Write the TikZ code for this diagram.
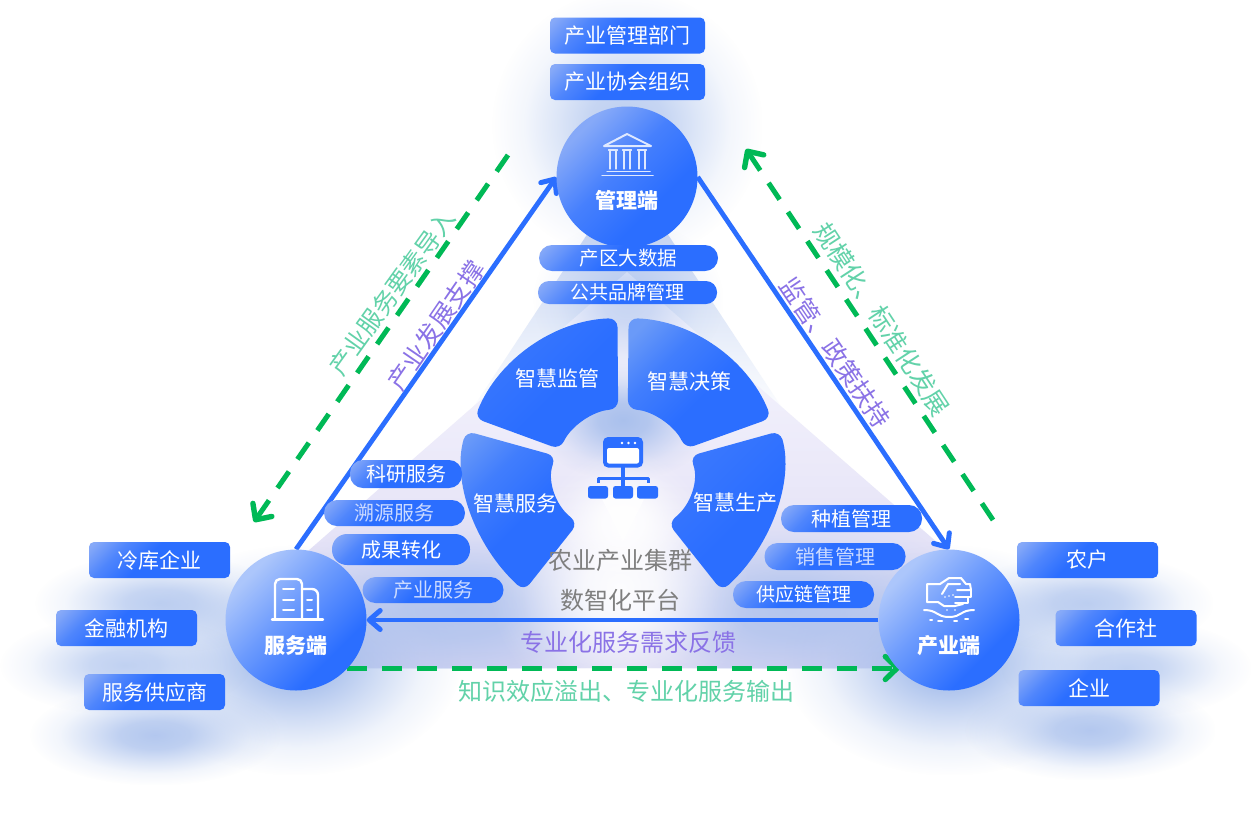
\documentclass[tikz,border=0pt]{standalone}
\usepackage{fontspec}
\setmainfont{Noto Sans CJK SC}
\usetikzlibrary{arrows.meta,calc,fadings}
\definecolor{cBlue}{HTML}{2B6EFF}
\definecolor{cLight}{HTML}{86A9F8}
\definecolor{cPale}{HTML}{ACC6FB}
\definecolor{cMid}{HTML}{6A9AF8}
\definecolor{cGreen}{HTML}{00B956}
\definecolor{cGreenT}{HTML}{62D2A9}
\definecolor{cPurple}{HTML}{8A72E6}
\definecolor{cGrey}{HTML}{7F7F7F}
\definecolor{cGlow}{HTML}{A6BEEC}
\definecolor{cTintText}{HTML}{CBDAFF}
\definecolor{cLavA}{HTML}{F8F8FE}
\definecolor{cLavB}{HTML}{EBE9F9}
\definecolor{cLavC}{HTML}{D9D7F3}
\definecolor{cTopW}{HTML}{C9D7F3}
\pgfdeclarehorizontalshading{boxgrad}{100bp}{color(0bp)=(cLight); color(17bp)=(cLight); color(30bp)=(cBlue!60!cLight); color(44bp)=(cBlue); color(100bp)=(cBlue)}
\pgfdeclarehorizontalshading{circgrad}{100bp}{color(0bp)=(cPale); color(27bp)=(cPale); color(46bp)=(cBlue!50!cPale); color(68bp)=(cBlue); color(100bp)=(cBlue)}
\pgfdeclarehorizontalshading{circgradb}{100bp}{color(0bp)=(cLight); color(27bp)=(cLight); color(46bp)=(cBlue!70!cLight); color(64bp)=(cBlue); color(100bp)=(cBlue)}
\pgfdeclarehorizontalshading{seglight}{100bp}{color(0bp)=(cMid); color(20bp)=(cMid); color(36bp)=(cBlue!65!cMid); color(54bp)=(cBlue); color(100bp)=(cBlue)}
\pgfdeclarehorizontalshading{segdark}{100bp}{color(0bp)=(cBlue!85!cLight); color(30bp)=(cBlue!85!cLight); color(55bp)=(cBlue); color(100bp)=(cBlue)}
\pgfdeclareverticalshading{lavgrad}{100bp}{color(0bp)=(cLavC); color(25bp)=(cLavC); color(50bp)=(cLavB); color(75bp)=(cLavA); color(100bp)=(cLavA)}
\pgfdeclareverticalshading{topgrad}{100bp}{color(0bp)=(white); color(25bp)=(white); color(75bp)=(cTopW); color(100bp)=(cTopW)}
\pgfdeclareradialshading{softgs}{\pgfpointorigin}{color(0bp)=(white); color(7bp)=(white!85!black); color(13bp)=(white!50!black); color(19bp)=(white!17!black); color(25bp)=(black); color(50bp)=(black)}
\pgfdeclarefading{softg}{\pgfuseshading{softgs}}
\newcommand{\softglow}[6]{%
  \fill[#5,path fading=softg,opacity=#6] (#1-#3,-#2-#4) rectangle (#1+#3,-#2+#4);}
\newcommand{\segment}[5]{%
  \path[shade,shading=#5,shading angle=-45,rounded corners=9pt]
    (#1:160) arc[start angle=#1,end angle=#2,radius=160] -- (#3:69) arc[start angle=#3,end angle=#4,radius=69] -- cycle;}
\newcommand{\fs}[1]{\fontsize{#1}{#1}\selectfont}
\tikzset{
  boxnode/.style={shade,shading=boxgrad,shading angle=-45,rounded corners=5pt,minimum width=141pt,minimum height=36pt,inner sep=0pt,text=white,font=\fs{21}},
  pillnode/.style={shade,shading=boxgrad,shading angle=-45,rounded corners=13pt,minimum width=141pt,minimum height=27pt,inner sep=0pt,text=white,font=\fs{20}},
  rolenode/.style={circle,shade,shading=circgrad,shading angle=-45,minimum size=141pt,inner sep=0pt},
  rolelabel/.style={inner sep=0pt,text=white,font=\fs{21}\bfseries},
  seglabel/.style={inner sep=0pt,text=white,font=\fs{21}},
  greenlabel/.style={inner sep=0pt,text=cGreenT,font=\fs{24}},
  purplelabel/.style={inner sep=0pt,text=cPurple,font=\fs{24}},
  greylabel/.style={inner sep=0pt,text=cGrey,font=\fs{24}},
  bluelink/.style={draw=cBlue,line width=4.8pt,-{Straight Barb[length=11pt,width=19pt,line width=5pt,round]}},
  greenlink/.style={draw=cGreen,line width=5pt,dash pattern=on 20pt off 15pt,-{Straight Barb[length=12pt,width=23pt,line width=5.4pt,round]}},
  iconline/.style={draw=white,line width=2.4pt,line cap=round,line join=round},
  paleicon/.style={draw=white!85!cBlue,line width=2pt,line cap=round,line join=round},
  neticon/.style={fill=cBlue,draw=none,rounded corners=2.5pt},
}
\begin{document}
\begin{tikzpicture}[x=1pt,y=1pt]
\useasboundingbox (0,0) rectangle (1253,-812);
\fill[white] (0,0) rectangle (1253,-812);
% soft background
\path[shade,shading=topgrad] (590,-230) -- (665,-230) -- (790,-420) -- (465,-420) -- cycle;
\path[shade,shading=lavgrad] (627,-272) -- (955,-558) -- (960,-668) -- (290,-668) -- (300,-558) -- cycle;
\softglow{627}{125}{135}{135}{cGlow}{0.75}
\softglow{628}{300}{95}{80}{cGlow}{0.6}
\softglow{296}{660}{165}{115}{cGlow}{1}
\softglow{949}{660}{165}{115}{cGlow}{1}
\softglow{160}{603}{125}{50}{cGlow}{0.75}
\softglow{125}{665}{125}{50}{cGlow}{0.7}
\softglow{155}{735}{125}{50}{cGlow}{0.85}
\softglow{1088}{603}{125}{50}{cGlow}{0.75}
\softglow{1126}{668}{125}{50}{cGlow}{0.7}
\softglow{1090}{730}{125}{50}{cGlow}{0.85}
\begin{scope}
\clip (200,-380) rectangle (1050,-668);
\softglow{460}{610}{190}{100}{cGlow}{0.75}
\softglow{790}{610}{190}{100}{cGlow}{0.75}
\softglow{620}{590}{130}{125}{white}{0.95}
\end{scope}
\softglow{623}{420}{90}{60}{cGlow}{0.95}
\softglow{623}{520}{80}{70}{white}{0.95}
\fill[white,opacity=.75] (600,-495) -- (646,-495) -- (623,-541) -- cycle;
% role nodes
\coordinate (g1s) at (508,-155);
\coordinate (g1e) at (254,-522);
\coordinate (g2s) at (993,-520);
\coordinate (g2e) at (746,-149);
\coordinate (g3s) at (347,-668);
\coordinate (g3e) at (900,-668);
\path (627,-177) node[circle,minimum size=141pt,inner sep=0pt] (mgmtA) {};
\path (296,-620) node[circle,minimum size=141pt,inner sep=0pt] (svcA) {};
\path (949,-620) node[circle,minimum size=141pt,inner sep=0pt] (prodA) {};
% connectors
\draw[bluelink] (svcA.north) -- (mgmtA.west);
\draw[bluelink] (mgmtA.east) -- (prodA.north);
\draw[bluelink] (prodA.west) -- (svcA.east);
\draw[greenlink] (g1s) -- (g1e);
\draw[greenlink] (g2s) -- (g2e);
\draw[greenlink] (g3s) -- (g3e);
% circles
\node[rolenode,shading=circgradb] (mgmt) at (mgmtA) {};
\node[rolenode] (svc) at (svcA) {};
\node[rolenode] (prod) at (prodA) {};
\node[rolelabel] (mgmtT) at (627,-200) {管理端};
\node[rolelabel] (svcT) at (296,-646) {服务端};
\node[rolelabel] (prodT) at (949,-646) {产业端};
% temple icon
\draw[paleicon] (604,-146) -- (627,-134) -- (651,-146) -- cycle;
\foreach \cx in {613,627,642}{\draw[paleicon,line width=1.3pt] (\cx-3,-150) -- (\cx-3,-169) (\cx+3,-150) -- (\cx+3,-169) (\cx-4.5,-150) -- (\cx+4.5,-150);}
\draw[paleicon,line width=1.5pt] (607,-171.5) -- (650,-171.5);
\draw[paleicon,line width=1.5pt] (602,-175.5) -- (653,-175.5);
% building icon
\draw[iconline] (275,-619) -- (275,-584) arc[start angle=180,end angle=90,radius=5] -- (297,-579) arc[start angle=90,end angle=0,radius=5] -- (302,-619);
\draw[iconline] (302,-589) -- (312,-589) arc[start angle=90,end angle=0,radius=6] -- (318,-619);
\draw[iconline] (272,-619.5) -- (323,-619.5);
\foreach \wy in {589,600,610}{\draw[iconline,line width=2pt] (283,-\wy) -- (294,-\wy);}
\foreach \wy in {600,610}{\draw[iconline,line width=2pt] (307,-\wy) -- (312,-\wy);}
% handshake icon
\draw[iconline,line width=2pt] (940,-584) -- (927,-584) -- (927,-602) -- (938,-602) -- (944,-606) -- (955,-606) -- (963,-604);
\draw[iconline,line width=2pt] (940,-584) -- (949,-578) -- (961,-578) -- (966,-584) -- (970,-584) -- (971,-590) -- (957,-590);
\draw[iconline,line width=2pt] (960,-584) -- (948,-584) -- (942,-594);
\draw[iconline,line width=2pt] (971,-590) -- (971,-597) -- (955,-597);
\draw[iconline,line width=2pt] (968,-597) -- (968,-603) -- (955,-603);
\draw[iconline,line width=2pt] (924,-610) .. controls (938,-610) and (936,-617) .. (949,-617) .. controls (962,-617) and (960,-610) .. (974,-610);
\draw[iconline,line width=2pt] (930,-620) -- (932,-620) (938,-621) -- (942,-621) (954,-621) -- (957,-621) (965,-619) -- (968,-619);
\foreach \dx/\dy in {945/597,949/596,953/595,947/610,955/610}{\fill[white] (\dx,-\dy) circle (0.9);}
% wheel segments
\begin{scope}[shift={(623,-478)}]
\segment{92}{158}{155.5}{94}{segdark}
\segment{88}{22}{25}{86}{seglight}
\end{scope}
\path[shade,shading=seglight,shading angle=-45,rounded corners=9pt]
  (466,-431) .. controls (452,-480) and (474,-545) .. (524,-591) -- (578,-523) .. controls (555,-505) and (547,-480) .. (556,-456) -- cycle;
\path[shade,shading=segdark,shading angle=-45,rounded corners=9pt]
  (780,-431) .. controls (794,-480) and (772,-545) .. (722,-591) -- (668,-523) .. controls (691,-505) and (699,-480) .. (690,-456) -- cycle;
\node[seglabel] (s1) at (557,-378) {智慧监管};
\node[seglabel] (s2) at (689,-381) {智慧决策};
\node[seglabel] (s3) at (515,-503) {智慧服务};
\node[seglabel] (s4) at (735,-503) {智慧生产};
% network icon
\fill[neticon,rounded corners=5pt] (603,-437) rectangle (643,-467.5);
\fill[white,rounded corners=2pt] (607,-448) rectangle (639,-463.5);
\foreach \ddx in {622,628.5,635}{\fill[white] (\ddx,-443) circle (1.4);}
\fill[cBlue] (621,-467) rectangle (625,-486);
\draw[cBlue,line width=3pt,line join=round] (598,-483) -- (598,-478) -- (648,-478) -- (648,-483);
\fill[neticon] (588,-486) rectangle (608,-498.5);
\fill[neticon] (613,-486) rectangle (633,-498.5);
\fill[neticon] (637,-486) rectangle (658,-498.5);
% boxes
\node[boxnode,minimum width=155pt] (b1) at (627.5,-35.5) {产业管理部门};
\node[boxnode,minimum width=155pt] (b2) at (627.5,-82) {产业协会组织};
\node[boxnode] (b3) at (159.5,-560) {冷库企业};
\node[boxnode] (b4) at (126.5,-628) {金融机构};
\node[boxnode] (b5) at (154.5,-692) {服务供应商};
\node[boxnode] (b6) at (1087.5,-560) {农户};
\node[boxnode] (b7) at (1126,-628) {合作社};
\node[boxnode] (b8) at (1089,-688) {企业};
% pills
\node[pillnode,minimum width=179pt,minimum height=26pt,font=\fs{19.5}] (p1) at (628.5,-258) {产区大数据};
\node[pillnode,minimum width=179pt,minimum height=23pt,rounded corners=11pt,font=\fs{19}] (p2) at (627.5,-292.5) {公共品牌管理};
\node[pillnode,minimum width=112pt,minimum height=28pt] (p3) at (406,-474) {科研服务};
\node[pillnode,minimum height=26pt,text=cTintText] (p4) at (394.5,-513) {溯源服务};
\node[pillnode,minimum width=138pt,minimum height=31pt,rounded corners=15pt] (p5) at (401,-549.5) {成果转化};
\node[pillnode,minimum height=26pt,text=cTintText] (p6) at (433,-590) {产业服务};
\node[pillnode] (p7) at (851.5,-518.5) {种植管理};
\node[pillnode,text=cTintText] (p8) at (835,-556.5) {销售管理};
\node[pillnode,font=\fs{19}] (p9) at (803.5,-594.5) {供应链管理};
% texts
\node[greylabel] (t1) at (620,-560) {农业产业集群};
\node[greylabel] (t2) at (620,-600) {数智化平台};
\node[purplelabel] (t3) at (628,-642) {专业化服务需求反馈};
\node[greenlabel] (t4) at (626,-691) {知识效应溢出、专业化服务输出};
\node[greenlabel,rotate=54.3,font=\fs{24.5}] (t5) at (392,-292.5) {产业服务要素导入};
\node[purplelabel,rotate=55.6,font=\fs{25}] (t6) at (436,-325.5) {产业发展支撑};
\node[greenlabel,rotate=-56.8,font=\fs{25}] (t7) at (882,-319) {规模化、标准化发展};
\node[purplelabel,rotate=-56,font=\fs{25}] (t8) at (835,-352.5) {监管、政策扶持};
\end{tikzpicture}
\end{document}
